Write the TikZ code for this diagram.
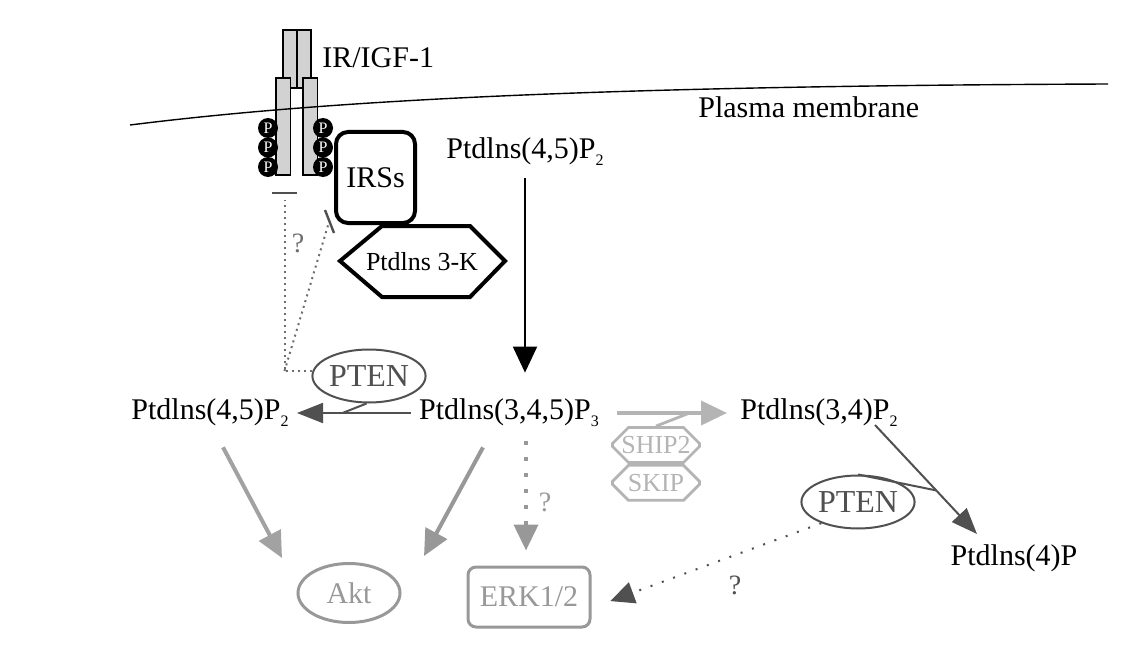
\documentclass[tikz,border=0pt]{standalone}
\usepackage{fontspec}
\setmainfont{Liberation Serif}
\usetikzlibrary{arrows.meta,positioning,shapes.geometric,shapes.misc,calc}
\definecolor{dkgray}{HTML}{505050}
\definecolor{mdgray}{HTML}{989898}
\definecolor{ltgray}{HTML}{B4B4B4}
\definecolor{qgray}{HTML}{6E6E6E}
\definecolor{recgray}{HTML}{D2D2D2}
\newcommand{\lowsub}[1]{\raisebox{-3.5pt}{\fontsize{8}{8}\selectfont #1}}

\begin{document}
\begin{tikzpicture}[x=0.5pt,y=-0.5pt,>={Triangle[length=13pt,width=12pt]},
    mol/.style={font=\fontsize{15}{18}\selectfont,inner sep=4pt},
    pten/.style={ellipse,draw=dkgray,text=dkgray,line width=1pt,minimum width=51pt,minimum height=26.5pt,inner sep=0pt,font=\fontsize{16}{18}\selectfont},
    target/.style={draw=mdgray,text=mdgray,line width=1.5pt,inner sep=0pt,font=\fontsize{15}{18}\selectfont},
    phos/.style={chamfered rectangle,chamfered rectangle xsep=4pt,chamfered rectangle ysep=4pt,draw=ltgray,text=ltgray,line width=1.4pt,minimum width=43.5pt,minimum height=17.5pt,inner sep=0pt,font=\fontsize{13}{15}\selectfont},
    pdot/.style={circle,fill=black,text=white,inner sep=0pt,minimum size=10pt,font=\fontsize{8}{8}\selectfont},
    rec/.style={fill=recgray,draw=black,line width=0.6pt},
    qm/.style={text=qgray,font=\fontsize{14}{16}\selectfont,inner sep=0pt},
    dots/.style={draw=qgray,line width=1pt,dash pattern=on 1pt off 2pt},
    tbar/.style={draw=dkgray,line width=1.2pt},
    dkarrow/.style={->,>={Triangle[length=13pt,width=10pt]},draw=dkgray,line width=1pt},
    grarrow/.style={->,line width=2pt}]

\useasboundingbox (0,0) rectangle (1146,658);

% receptor
\draw[rec] (283,30) rectangle (297,88);
\draw[rec] (297,30) rectangle (311,88);
\draw[rec] (276,78) rectangle (290.5,175);
\draw[rec] (303,78) rectangle (317.5,175);
\foreach \y [count=\i] in {128,147.5,167} {
    \node[pdot] (pl\i) at (268,\y) {P};
    \node[pdot] (pr\i) at (323,\y) {P};
}
\node[mol,anchor=base west,inner sep=0pt] (ir) at (322,68) {IR/IGF-1};

% membrane
\draw[line width=0.7pt] (130,125) .. controls (330,100) and (600,86) .. (1108,84);
\node[mol,anchor=base west,inner sep=0pt] (pm) at (698,118) {Plasma membrane};

% IRS and PI3K
\node[draw,line width=2pt,rounded corners=6pt,minimum width=39.5pt,minimum height=45.5pt,inner sep=0pt,
      font=\fontsize{15}{18}\selectfont] (irs) at (375.5,177.5) {IRSs};
\draw[line width=2pt,line join=miter] (340,261) -- (382,226) -- (470,226) -- (505,261) -- (470,297) -- (382,297) -- cycle;
\node[font=\fontsize{13}{15}\selectfont,inner sep=0pt] (pik) at (422,262) {Ptdlns 3-K};

% lipids
\node[mol] (pip2top) at (525,152) {Ptdlns(4,5)P\lowsub{2}};
\node[mol] (pip2left) at (210,413) {Ptdlns(4,5)P\lowsub{2}};
\node[mol] (pip3) at (509,413) {Ptdlns(3,4,5)P\lowsub{3}};
\node[mol] (pi34) at (819,413) {Ptdlns(3,4)P\lowsub{2}};
\node[mol] (pi4) at (1014,558) {Ptdlns(4)P};

% enzymes and targets
\node[pten] (ptenL) at (369,376) {PTEN};
\node[pten] (ptenR) at (858,502) {PTEN};
\node[target,ellipse,minimum width=51pt,minimum height=29.5pt] (akt) at (349,593) {Akt};
\node[target,rounded corners=4pt,minimum width=61pt,minimum height=30pt] (erk) at (529,597) {ERK1/2};
\node[phos] (ship2) at (656,445) {SHIP2};
\node[phos,below=0pt of ship2] (skip) {SKIP};

% arrows
\path[->,line width=1pt] (pip2top.south) edge[shorten <=2pt,shorten >=9pt] (pip2top.south |- pip3.north);
\draw[dkarrow] (pip3.west) -- (pip2left.east);
\draw[draw=dkgray,line width=1pt] (ptenL.-95) -- ($(pip3.west)!0.6!(pip2left.east)$);
\draw[grarrow,draw=ltgray,shorten <=5pt,shorten >=2.5pt] (pip3.east) -- (pi34.west);
\draw[draw=ltgray,line width=1.4pt] (ship2.north) -- ($(pip3.east)!0.66!(pi34.west)$);

\coordinate (t6a) at ([shift={(56,12)}]pi34.center);
\coordinate (t6b) at ([shift={(-37,-2)}]pi4.north);
\draw[dkarrow] (t6a) -- (t6b);
\draw[draw=dkgray,line width=1pt] (ptenR.north) -- ($(t6a)!0.6!(t6b)$);

\draw[grarrow,draw=ltgray!90!black] ([shift={(13,12)}]pip2left.south) -- ([shift={(-67,-35)}]akt.center);
\draw[grarrow,draw=mdgray] ([shift={(-26,12)}]pip3.south) -- ([shift={(75,-37)}]akt.center);
\draw[->,draw=mdgray,line width=2pt,dash pattern=on 2pt off 6pt] ([shift={(17,6)}]pip3.south) -- ([shift={(-3,-15)}]erk.north);
\node[qm,text=mdgray] (q1) at (545,502) {?};

\draw[->,>={Triangle[length=12pt,width=11pt]},draw=dkgray,line width=1pt,dash pattern=on 1pt off 5pt,shorten >=10pt] (ptenR.210) -- (erk.-10);
\node[qm,text=dkgray] (q2) at (735,585) {?};

% inhibition of the receptor
\coordinate (inhA) at (284.5,200);
\coordinate (inhB) at (329,222);
\draw[dots] (ptenL.175) -| (inhA);
\draw[dots] (ptenL.175 -| inhA) -- (inhB);
\draw[tbar] (272,193) -- (297,193);
\draw[tbar] (325,210) -- (334,233);
\node[qm] (q3) at (298,243) {?};

\end{tikzpicture}
\end{document}
